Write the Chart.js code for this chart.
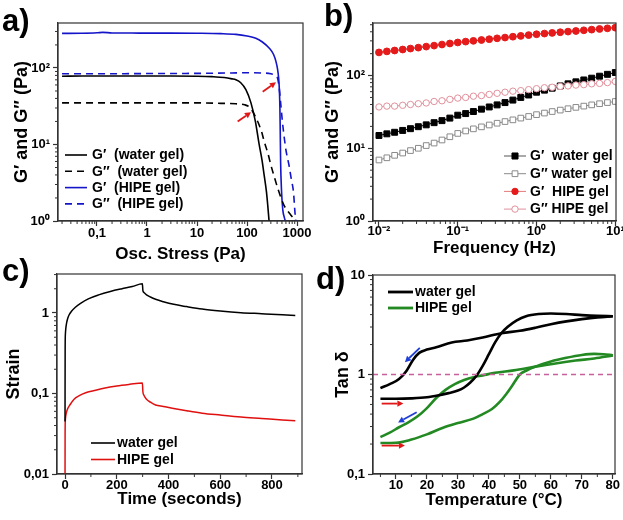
<!DOCTYPE html>
<html><head><meta charset="utf-8">
<script src="https://cdn.jsdelivr.net/npm/chart.js@4.4.1/dist/chart.umd.min.js"></script>
<style>
html,body{margin:0;padding:0;background:#fff;width:623px;height:520px;overflow:hidden;font-family:'Liberation Sans',Arial,sans-serif}
canvas{position:absolute;left:0;top:0}
.lbl{position:absolute;font-weight:bold;font-size:31px;line-height:31px;color:#000;font-family:'Liberation Sans',Arial,sans-serif}
</style></head><body>
<canvas id="ca" width="623" height="520"></canvas>
<canvas id="cb" width="623" height="520"></canvas>
<canvas id="cc" width="623" height="520"></canvas>
<canvas id="cd" width="623" height="520"></canvas>
<div class="lbl" style="left:2px;top:5px">a)</div>
<div class="lbl" style="left:324px;top:0px">b)</div>
<div class="lbl" style="left:2px;top:255px">c)</div>
<div class="lbl" style="left:316px;top:263px">d)</div>
<script>
// ================= DATA =================
// Panel a: amplitude sweep
const aXTicks = [0.1, 1, 10, 100, 1000];
const aXTickLabels = ['0,1', '1', '10', '100', '1000'];
const aYTicks = [1, 10, 100];
const aYTickLabels = ['10\u2070', '10\u00b9', '10\u00b2'];
const aStressGpWater = [0.02, 0.05, 0.1, 0.3, 1, 3, 10, 20, 35, 50, 60, 75, 95, 120, 147, 175, 200, 220, 245, 260, 280, 300];
const aGpWater       = [78, 78.5, 78.5, 78.5, 78.5, 78.5, 78, 77, 75, 72, 70, 64, 52, 35, 20, 10, 6.2, 4.0, 2.4, 1.6, 0.9, 0.5];
const aStressGppWater = [0.02, 0.1, 1, 10, 30, 60, 90, 110, 130, 150, 175, 200, 220, 260, 300, 350, 410, 480, 550, 650, 750, 850, 950];
const aGppWater       = [35, 35, 35, 35, 34.5, 34, 33, 31, 27, 22.5, 18, 14, 11, 7.8, 5.4, 3.8, 2.7, 2.0, 1.6, 1.35, 1.2, 1.08, 0.95];
const aStressGpHipe = [0.02, 0.05, 0.1, 0.13, 0.2, 0.5, 1, 3, 10, 30, 60, 100, 150, 200, 280, 340, 380, 410, 430, 445, 455, 462, 470, 490, 520, 560, 600, 640];
const aGpHipe       = [283, 284, 288, 292, 287, 286, 285, 285, 284, 281, 275, 262, 245, 220, 181, 150, 121, 95, 73, 50, 30, 15, 6, 2.5, 1.4, 1.1, 0.95, 0.8];
const aStressGppHipe = [0.02, 0.1, 1, 10, 50, 100, 200, 300, 360, 410, 440, 475, 510, 550, 600, 690, 770, 850, 910, 960];
const aGppHipe       = [84, 84, 84.5, 85, 86, 86.5, 86, 84, 80, 73, 55, 33, 20, 13, 8.5, 5.4, 3.5, 2.4, 1.3, 0.9];
const aArrowFrom = [[65, 20], [206, 49]];
const aArrowTo   = [[120, 26.4], [380, 65]];
const aLegend = ['G\u2032  (water gel)', 'G\u2033  (water gel)', 'G\u2032  (HIPE gel)', 'G\u2033  (HIPE gel)'];

// Panel b: frequency sweep
const bXTicks = [0.01, 0.1, 1, 10];
const bXTickLabels = ['10\u207b\u00b2', '10\u207b\u00b9', '10\u2070', '10\u00b9'];
const bYTicks = [1, 10, 100];
const bYTickLabels = ['10\u2070', '10\u00b9', '10\u00b2'];
const bFreq = [0.01, 0.0126, 0.0158, 0.02, 0.0251, 0.0316, 0.0398, 0.0501, 0.0631, 0.0794,
               0.1, 0.126, 0.158, 0.2, 0.251, 0.316, 0.398, 0.501, 0.631, 0.794,
               1, 1.26, 1.58, 2, 2.51, 3.16, 3.98, 5.01, 6.31, 7.94, 10];
const bGpWater  = [15, 15.8, 16.6, 17.6, 18.6, 19.8, 21, 22.5, 24, 26, 28.5, 30, 32, 34.5, 37, 39.5, 42.5, 46, 50, 54, 59, 63, 67, 72, 77, 82, 87, 92, 98, 104, 110];
const bGppWater = [6.9, 7.4, 8.0, 8.6, 9.3, 10.0, 10.9, 11.8, 13.0, 14.4, 16, 17.3, 18.5, 19.7, 20.9, 22.1, 23.3, 24.6, 26, 27.4, 29, 30.5, 32, 33.5, 35, 36.5, 38, 39.5, 41, 42.5, 44];
const bGpHipe   = [208, 215, 221, 228, 235, 242, 250, 258, 267, 276, 285, 293, 300, 308, 316, 325, 333, 342, 351, 360, 370, 378, 386, 394, 402, 410, 419, 428, 437, 446, 455];
const bGppHipe  = [37, 38, 38, 39, 40, 41, 42, 44, 45, 47, 49, 50, 52, 53, 55, 57, 59, 61, 62, 64, 66, 68, 69, 71, 72, 74, 75, 77, 78, 80, 83];
const bLegend = ['G\u2032  water gel', 'G\u2033 water gel', 'G\u2032  HIPE gel', 'G\u2033 HIPE gel'];

// Panel c: creep-recovery
const cXTicks = [0, 200, 400, 600, 800];
const cXTickLabels = ['0', '200', '400', '600', '800'];
const cYTicks = [0.01, 0.1, 1];
const cYTickLabels = ['0,01', '0,1', '1'];
const cTimeWater = [0, 0.5, 1.5, 3, 6, 10, 16, 25, 40, 60, 90, 130, 175, 220, 260, 299, 301, 305, 315, 330, 350, 380, 420, 470, 530, 600, 680, 760, 840, 890];
const cStrainWater = [0.045, 0.35, 0.55, 0.64, 0.75, 0.85, 0.95, 1.05, 1.18, 1.32, 1.5, 1.68, 1.85, 2.0, 2.13, 2.3, 1.9, 1.8, 1.68, 1.58, 1.48, 1.38, 1.28, 1.2, 1.12, 1.06, 1.01, 0.98, 0.95, 0.93];
const cTimeHipe = [0, 0.3, 1, 3, 8, 20, 35, 55, 80, 110, 150, 200, 250, 299, 301, 305, 315, 330, 350, 380, 420, 470, 530, 600, 680, 760, 840, 890];
const cStrainHipe = [0.005, 0.03, 0.045, 0.053, 0.062, 0.073, 0.085, 0.094, 0.102, 0.108, 0.116, 0.124, 0.13, 0.135, 0.105, 0.095, 0.085, 0.078, 0.072, 0.069, 0.065, 0.061, 0.057, 0.054, 0.051, 0.049, 0.047, 0.046];
const cLegend = ['water gel', 'HIPE gel'];

// Panel d: temperature sweep (tan delta)
const dXTicks = [10, 20, 30, 40, 50, 60, 70, 80];
const dXTickLabels = ['10', '20', '30', '40', '50', '60', '70', '80'];
const dYTicks = [0.1, 1, 10];
const dYTickLabels = ['0,1', '1', '10'];
const dTempWaterHeat = [5, 10, 15, 20, 24, 27, 30, 32, 34, 36, 38, 40, 42, 44, 46, 49, 52, 56, 60, 65, 70, 75, 80];
const dTanWaterHeat  = [0.57, 0.57, 0.575, 0.59, 0.62, 0.65, 0.69, 0.74, 0.83, 0.97, 1.22, 1.6, 2.1, 2.6, 3.0, 3.5, 3.85, 4.05, 4.1, 4.05, 3.95, 3.88, 3.85];
const dTempWaterCool = [5, 8, 11, 13.5, 15.5, 17.5, 20, 23, 28, 33, 38, 44, 50, 55, 60, 65, 70, 75, 80];
const dTanWaterCool  = [0.73, 0.8, 0.9, 1.1, 1.4, 1.65, 1.78, 1.88, 2.1, 2.2, 2.35, 2.6, 2.75, 2.95, 3.2, 3.42, 3.6, 3.75, 3.85];
const dTempHipeHeat = [5, 10, 15, 20, 25, 30, 35, 38, 41, 43.5, 45.5, 47.5, 50, 52, 55, 60, 65, 70, 74, 77, 80];
const dTanHipeHeat  = [0.205, 0.206, 0.222, 0.25, 0.29, 0.325, 0.36, 0.4, 0.45, 0.53, 0.63, 0.77, 1.0, 1.09, 1.2, 1.35, 1.47, 1.57, 1.61, 1.6, 1.56];
const dTempHipeCool = [5, 8, 11, 14, 17, 20, 23, 26, 29, 32, 35, 38, 42, 48, 55, 62, 68, 74, 80];
const dTanHipeCool  = [0.235, 0.26, 0.295, 0.33, 0.38, 0.46, 0.58, 0.7, 0.8, 0.88, 0.94, 0.98, 1.04, 1.1, 1.2, 1.3, 1.38, 1.45, 1.55];
const dRefTemp = [2.6, 80.7];
const dRefTan = [1, 1];
const dArrowFrom = [[17.7, 1.85], [5.4, 0.51], [16.7, 0.418], [5.4, 0.193]];
const dArrowTo   = [[12.9, 1.33], [12.4, 0.51], [10.7, 0.33], [12.9, 0.193]];
const dArrowColors = ['#1f3fd6', '#e01818', '#1f3fd6', '#e01818'];
const dLegend = ['water gel', 'HIPE gel'];

// ================= HELPERS =================
const FONT = "'Liberation Sans', Arial, sans-serif";
Chart.defaults.font.family = FONT;
Chart.defaults.font.weight = 'bold';
Chart.defaults.color = '#000';
Chart.defaults.animation = false;
Chart.defaults.plugins.legend.display = false;
Chart.defaults.plugins.tooltip.enabled = false;

const pts = (xs, ys) => xs.map((x, i) => ({x: x, y: ys[i]}));
function logMinors(min, max) {
  const out = [];
  for (let e = Math.floor(Math.log10(min)); e <= Math.ceil(Math.log10(max)); e++)
    for (let k = 2; k <= 9; k++) { const v = k * Math.pow(10, e); if (v >= min && v <= max) out.push(v); }
  return out;
}
function linMinors(start, step, max) { const o = []; for (let v = start; v <= max; v += step) o.push(v); return o; }

function drawArrow(ctx, x1, y1, x2, y2, color) {
  const ang = Math.atan2(y2 - y1, x2 - x1), hl = 6, hw = 3.2;
  const bx = x2 - hl * Math.cos(ang), by = y2 - hl * Math.sin(ang);
  ctx.strokeStyle = color; ctx.fillStyle = color; ctx.lineWidth = 1.8; ctx.setLineDash([]);
  ctx.beginPath(); ctx.moveTo(x1, y1); ctx.lineTo(bx, by); ctx.stroke();
  ctx.beginPath(); ctx.moveTo(x2, y2);
  ctx.lineTo(bx + hw * Math.sin(ang), by - hw * Math.cos(ang));
  ctx.lineTo(bx - hw * Math.sin(ang), by + hw * Math.cos(ang));
  ctx.closePath(); ctx.fill();
}

function makePlugin(cfg) {
  return {
    id: 'extras',
    afterDraw(chart) {
      const {ctx, chartArea: a} = chart;
      const xs = chart.scales.x, ys = chart.scales.y;
      ctx.save();
      ctx.strokeStyle = '#333'; ctx.lineWidth = 1.2; ctx.setLineDash([]);
      ctx.strokeRect(a.left, a.top, a.right - a.left, a.bottom - a.top);
      ctx.lineWidth = 1;
      (cfg.xMinor || []).forEach(v => { const p = xs.getPixelForValue(v); if (p < a.left - 0.5 || p > a.right + 0.5) return;
        ctx.beginPath(); ctx.moveTo(p, a.bottom); ctx.lineTo(p, a.bottom + 3); ctx.stroke(); });
      (cfg.yMinor || []).forEach(v => { const p = ys.getPixelForValue(v); if (p < a.top - 0.5 || p > a.bottom + 0.5) return;
        ctx.beginPath(); ctx.moveTo(a.left, p); ctx.lineTo(a.left - 3, p); ctx.stroke(); });
      (cfg.arrows || []).forEach(ar => drawArrow(ctx, xs.getPixelForValue(ar.from[0]), ys.getPixelForValue(ar.from[1]),
        xs.getPixelForValue(ar.to[0]), ys.getPixelForValue(ar.to[1]), ar.color));
      const L = cfg.legend;
      if (L) {
        ctx.font = 'bold ' + L.size + 'px ' + FONT;
        ctx.textBaseline = 'middle'; ctx.textAlign = 'left';
        L.items.forEach((it, i) => {
          const y = L.y + i * L.dy;
          ctx.strokeStyle = it.color; ctx.lineWidth = it.width || 1.6; ctx.setLineDash(it.dash || []);
          ctx.beginPath(); ctx.moveTo(L.x0, y); ctx.lineTo(L.x1, y); ctx.stroke();
          ctx.setLineDash([]);
          if (it.marker) {
            const m = it.marker, cx = (L.x0 + L.x1) / 2;
            ctx.fillStyle = m.fill; ctx.strokeStyle = m.stroke; ctx.lineWidth = 1;
            if (m.style === 'rect') { const s = m.r * 0.72; ctx.beginPath(); ctx.rect(cx - s, y - s, 2 * s, 2 * s); ctx.fill(); ctx.stroke(); }
            else { ctx.beginPath(); ctx.arc(cx, y, m.r, 0, Math.PI * 2); ctx.fill(); ctx.stroke(); }
          }
          ctx.fillStyle = '#000';
          ctx.fillText(it.text, L.tx, y + 0.5);
        });
      }
      ctx.restore();
    }
  };
}

const GRID = {display: true, drawOnChartArea: false, drawTicks: true, tickLength: 5, tickColor: '#333', tickWidth: 1.2};
const BORDER = {display: true, color: '#333', width: 1.2};

function axis(o) {
  return {
    type: o.type, min: o.min, max: o.max, position: o.position,
    grid: GRID, border: BORDER,
    afterBuildTicks: s => { s.ticks = o.ticks.map(v => ({value: v})); },
    afterFit: s => {
      if (o.position === 'left') s.width = o.size; else s.height = o.size;
      s.paddingLeft = 0; s.paddingRight = 0; s.paddingTop = 0; s.paddingBottom = 0;
    },
    ticks: {autoSkip: false, maxRotation: 0, minRotation: 0, padding: o.tickPad, color: '#000',
            font: {size: 13, weight: 'bold', lineHeight: 1.2},
            callback: (v, i) => o.labels[i]},
    title: {display: true, text: o.title, color: '#000',
            font: {size: o.titleSize, weight: 'bold', lineHeight: 1.2},
            padding: o.position === 'left' ? {top: o.titlePad, bottom: 0} : {top: 0, bottom: o.titlePad}}
  };
}

function lineDs(data, color, width, dash) {
  return {data: data, borderColor: color, backgroundColor: color, borderWidth: width, borderDash: dash || [],
          pointRadius: 0, fill: false, cubicInterpolationMode: 'monotone', parsing: true};
}

// ================= PANEL A =================
new Chart(document.getElementById('ca'), {
  type: 'line',
  data: {datasets: [
    lineDs(pts(aStressGpWater, aGpWater), '#000', 1.6),
    lineDs(pts(aStressGppWater, aGppWater), '#000', 1.6, [7, 5]),
    lineDs(pts(aStressGpHipe, aGpHipe), '#1414c8', 1.6),
    lineDs(pts(aStressGppHipe, aGppHipe), '#1414c8', 1.6, [7, 5])
  ]},
  options: {
    responsive: false, maintainAspectRatio: false,
    layout: {padding: {left: 0, top: 23, right: 320, bottom: 255}},
    scales: {
      x: axis({type: 'logarithmic', min: 0.0166, max: 1318, position: 'bottom', ticks: aXTicks, labels: aXTickLabels,
               size: 44, tickPad: 0, title: 'Osc. Stress (Pa)', titleSize: 17, titlePad: 0}),
      y: axis({type: 'logarithmic', min: 1, max: 387, position: 'left', ticks: aYTicks, labels: aYTickLabels,
               size: 58, tickPad: 3, title: 'G\u2032 and G\u2033 (Pa)', titleSize: 18, titlePad: 11})
    }
  },
  plugins: [makePlugin({
    xMinor: logMinors(0.0166, 1318), yMinor: logMinors(1, 387),
    arrows: aArrowFrom.map((f, i) => ({from: f, to: aArrowTo[i], color: '#e01818'})),
    legend: {size: 14, x0: 65, x1: 87, tx: 92, y: 155, dy: 16.3, items: [
      {text: aLegend[0], color: '#000'},
      {text: aLegend[1], color: '#000', dash: [7, 5]},
      {text: aLegend[2], color: '#1414c8'},
      {text: aLegend[3], color: '#1414c8', dash: [7, 5]}
    ]}
  })]
});

// ================= PANEL B =================
function markDs(data, color, style, filled, r) {
  return {data: data, borderColor: color, backgroundColor: color, borderWidth: 1, showLine: true,
          pointStyle: style, pointRadius: r, pointBorderWidth: 1,
          pointBackgroundColor: filled ? color : '#fff', pointBorderColor: color, tension: 0};
}
new Chart(document.getElementById('cb'), {
  type: 'line',
  data: {datasets: [
    markDs(pts(bFreq, bGppWater), '#8a8a8a', 'rect', false, 4),
    markDs(pts(bFreq, bGppHipe), '#e0909c', 'circle', false, 3.2),
    markDs(pts(bFreq, bGpWater), '#000', 'rect', true, 4.2),
    markDs(pts(bFreq, bGpHipe), '#e51a1a', 'circle', true, 3.4)
  ]},
  options: {
    responsive: false, maintainAspectRatio: false,
    layout: {padding: {left: 320, top: 23, right: 7, bottom: 261}},
    scales: {
      x: axis({type: 'logarithmic', min: 0.0084, max: 10.2, position: 'bottom', ticks: bXTicks, labels: bXTickLabels,
               size: 38, tickPad: -2, title: 'Frequency (Hz)', titleSize: 17, titlePad: 0}),
      y: axis({type: 'logarithmic', min: 1, max: 528, position: 'left', ticks: bYTicks, labels: bYTickLabels,
               size: 53, tickPad: 3, title: 'G\u2032 and G\u2033 (Pa)', titleSize: 18, titlePad: 2})
    }
  },
  plugins: [makePlugin({
    xMinor: logMinors(0.0084, 10.2), yMinor: logMinors(1, 528),
    legend: {size: 14, x0: 504, x1: 526, tx: 530, y: 156, dy: 17.7, items: [
      {text: bLegend[0], color: '#555', width: 1, marker: {style: 'rect', fill: '#000', stroke: '#000', r: 4.2}},
      {text: bLegend[1], color: '#8a8a8a', width: 1, marker: {style: 'rect', fill: '#fff', stroke: '#8a8a8a', r: 4}},
      {text: bLegend[2], color: '#e57a7a', width: 1, marker: {style: 'circle', fill: '#e51a1a', stroke: '#e51a1a', r: 3.2}},
      {text: bLegend[3], color: '#e0909c', width: 1, marker: {style: 'circle', fill: '#fff', stroke: '#e0909c', r: 3.2}}
    ]}
  })]
});

// ================= PANEL C =================
new Chart(document.getElementById('cc'), {
  type: 'line',
  data: {datasets: [
    lineDs(pts(cTimeWater, cStrainWater), '#000', 1.5),
    lineDs(pts(cTimeHipe, cStrainHipe), '#e01010', 1.5)
  ]},
  options: {
    responsive: false, maintainAspectRatio: false,
    layout: {padding: {left: 0, top: 274, right: 321, bottom: 10}},
    scales: {
      x: axis({type: 'linear', min: -31, max: 916, position: 'bottom', ticks: cXTicks, labels: cXTickLabels,
               size: 36, tickPad: -1, title: 'Time (seconds)', titleSize: 17, titlePad: 0}),
      y: axis({type: 'logarithmic', min: 0.01, max: 3.05, position: 'left', ticks: cYTicks, labels: cYTickLabels,
               size: 57, tickPad: 3, title: 'Strain', titleSize: 18, titlePad: 3})
    }
  },
  plugins: [makePlugin({
    xMinor: linMinors(100, 200, 916), yMinor: logMinors(0.01, 3.05),
    legend: {size: 14, x0: 91, x1: 115, tx: 117, y: 443, dy: 16.5, items: [
      {text: cLegend[0], color: '#000', width: 1.6},
      {text: cLegend[1], color: '#e01010', width: 1.6}
    ]}
  })]
});

// ================= PANEL D =================
new Chart(document.getElementById('cd'), {
  type: 'line',
  data: {datasets: [
    Object.assign(lineDs(pts(dRefTemp, dRefTan), '#c8609c', 1.3, [5, 4]), {cubicInterpolationMode: 'default', tension: 0}),
    lineDs(pts(dTempWaterHeat, dTanWaterHeat), '#000', 2.6),
    lineDs(pts(dTempWaterCool, dTanWaterCool), '#000', 2.6),
    lineDs(pts(dTempHipeHeat, dTanHipeHeat), '#238a23', 2.6),
    lineDs(pts(dTempHipeCool, dTanHipeCool), '#238a23', 2.6)
  ]},
  options: {
    responsive: false, maintainAspectRatio: false,
    layout: {padding: {left: 320, top: 275, right: 8, bottom: 9}},
    scales: {
      x: axis({type: 'linear', min: 2.6, max: 80.7, position: 'bottom', ticks: dXTicks, labels: dXTickLabels,
               size: 37, tickPad: -1, title: 'Temperature (\u00b0C)', titleSize: 17, titlePad: 0}),
      y: axis({type: 'logarithmic', min: 0.1, max: 10, position: 'left', ticks: dYTicks, labels: dYTickLabels,
               size: 53, tickPad: 3, title: 'Tan \u03b4', titleSize: 18, titlePad: 12})
    }
  },
  plugins: [makePlugin({
    xMinor: linMinors(5, 10, 80.7), yMinor: logMinors(0.1, 10),
    arrows: dArrowFrom.map((f, i) => ({from: f, to: dArrowTo[i], color: dArrowColors[i]})),
    legend: {size: 14, x0: 388, x1: 413, tx: 415, y: 292, dy: 16, items: [
      {text: dLegend[0], color: '#000', width: 2.8},
      {text: dLegend[1], color: '#238a23', width: 2.8}
    ]}
  })]
});
</script>
</body></html>
